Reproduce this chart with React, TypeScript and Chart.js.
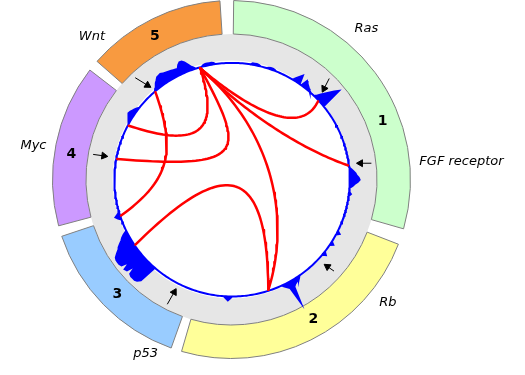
import React, { useEffect, useRef } from "react";
import { Chart, registerables } from "chart.js";

Chart.register(...registerables);

// ---------------- data ----------------
const sectorNumbers = ["1", "2", "3", "4", "5"];
const sectorStart = [0.7, 111.2, 199.7, 255.0, 311.3];
const sectorEnd = [106.0, 196.2, 251.5, 307.7, 356.3];
const sectorColors = ["#ccffcc", "#ffff99", "#99ccff", "#cc99ff", "#f89a40"];
const numberLabelAngles = [69, 149.6, 224.8, 278.9, 331.8];

const geneLabels = ["Ras", "FGF receptor", "Rb", "p53", "Myc", "Wnt"];
const geneLabelAngles = [41.8, 85.5, 128.2, 206.3, 279.7, 315.7];

// histogram bins: [angle (deg, clockwise from top), height]
const histogramBins: [number, number][] = [
  [10, 1.5], [11, 1.5], [12, 1.5], [13, 1],
  [18, 1], [19, 1.5], [20, 1.5], [21, 1],
  [32, 3], [33, 6], [34, 9],
  [37, 7], [38, 5], [39, 3.5], [40, 2], [41, 0.5],
  [45, 2], [46, 6], [47, 10], [48, 14], [49, 18], [50, 22],
  [85, 2], [86, 4], [87, 6], [88, 7], [89, 9], [90, 10], [91, 8], [92, 5], [93, 3],
  [97, 2], [117, 3], [123, 3], [129, 3],
  [146, 2], [147, 3], [148, 4], [149, 5], [150, 7], [151, 24], [152, 6], [153, 4], [154, 2],
  [181, 2], [182, 4], [183, 2],
  [222, 19], [223, 22], [224, 23], [225, 23], [226, 23], [227, 22], [228, 12], [229, 22],
  [230, 23], [231, 14], [232, 23], [233, 24], [234, 24], [235, 24], [236, 23], [237, 20],
  [238, 17], [239, 15], [240, 12], [241, 9], [242, 7], [243, 4],
  [251, 3], [252, 5], [253, 2],
  [299, 1], [300, 2], [301, 3.5], [302, 4.5], [303, 5.5], [304, 5], [305, 4], [306, 3], [307, 1.5],
  [320, 2], [321, 4], [322, 6], [323, 8], [324, 10], [325, 10.5], [326, 11], [327, 10],
  [328, 9.5], [329, 9], [330, 8.5], [331, 8], [332, 7.5], [333, 7], [334, 6.5], [335, 10],
  [336, 12], [337, 12], [338, 10], [339, 7], [340, 4], [341, 2],
  [346, 1.5], [347, 2], [348, 2], [349, 2], [350, 2], [351, 1.5],
];

// links (angles in degrees; control points as angle + fraction of circle radius)
const linkFrom = [280.3, 297.8, 319.0, 235.9, 344.2, 344.2, 344.2];
const linkTo = [344.2, 344.2, 252.0, 161.9, 161.9, 47.4, 82.9];
const linkC1Angle = [60.9, 319.4, 297.8, 356.2, 53.0, 5.7, 10.5];
const linkC1Radius = [0.17, 0.31, 0.54, 0.25, 0.55, 0.67, 0.59];
const linkC2Angle = [23.4, 345.5, 270.0, 74.5, 134.5, 59.5, 64.8];
const linkC2Radius = [0.27, 0.5, 0.52, 0.31, 0.65, 0.66, 0.63];

// arrows
const arrowTailAngle = [316.7, 280.4, 43.6, 83.2, 132.1, 207.3];
const arrowTailRadius = [144, 144, 143.6, 143, 140, 144];
const arrowHeadAngle = [318.9, 280.7, 45.6, 82.4, 132.8, 207.0];
const arrowHeadRadius = [126, 129, 128.7, 128, 128, 125.7];

// ---------------- layout ----------------
const W = 525;
const H = 375;
const CX = 231.5;
const CY = 179.5;
const R_HIST = 120;
const R_LINK = 119;
const RING_OUTER = 179;
const RING_INNER = 119;
const RING_SPLIT = 145.5;
const NUM_R = 162;
const GENE_R = [202.5, 230.7, 199, 194, 200.9, 199.8];

function polar(deg: number, r: number) {
  const a = (deg * Math.PI) / 180;
  return { x: CX + r * Math.sin(a), y: CY - r * Math.cos(a) };
}

function cubic(p0: any, p1: any, p2: any, p3: any, t: number) {
  const u = 1 - t;
  return {
    x: u * u * u * p0.x + 3 * u * u * t * p1.x + 3 * u * t * t * p2.x + t * t * t * p3.x,
    y: u * u * u * p0.y + 3 * u * u * t * p1.y + 3 * u * t * t * p2.y + t * t * t * p3.y,
  };
}

function buildRingData() {
  const values: number[] = [];
  const colors: string[] = [];
  const borders: number[] = [];
  let prev = 0;
  for (let i = 0; i < sectorStart.length; i++) {
    values.push(sectorStart[i] - prev);
    colors.push("rgba(0,0,0,0)");
    borders.push(0);
    values.push(sectorEnd[i] - sectorStart[i]);
    colors.push(sectorColors[i]);
    borders.push(1);
    prev = sectorEnd[i];
  }
  values.push(360 - prev);
  colors.push("rgba(0,0,0,0)");
  borders.push(0);
  return { values, colors, borders };
}

const textPlugin = {
  id: "circosText",
  afterDraw(chart: any) {
    const ctx = chart.ctx as CanvasRenderingContext2D;
    ctx.save();
    ctx.fillStyle = "#000";
    ctx.textAlign = "center";
    ctx.textBaseline = "middle";
    ctx.font = 'bold 14px "DejaVu Sans"';
    sectorNumbers.forEach((s, i) => {
      const p = polar(numberLabelAngles[i], NUM_R);
      ctx.fillText(s, p.x, p.y);
    });
    ctx.font = 'italic 13px "DejaVu Sans"';
    geneLabels.forEach((s, i) => {
      const p = polar(geneLabelAngles[i], GENE_R[i]);
      ctx.fillText(s, p.x, p.y);
    });
    ctx.restore();
  },
};

export default function App() {
  const ringRef = useRef<HTMLCanvasElement>(null);
  const mainRef = useRef<HTMLCanvasElement>(null);

  useEffect(() => {
    const ring = buildRingData();
    const ringChart = new Chart(ringRef.current!, {
      type: "doughnut",
      data: {
        labels: ring.values.map((_, i) => "s" + i),
        datasets: [
          {
            data: ring.values,
            backgroundColor: ring.colors,
            borderColor: "#808080",
            borderWidth: ring.borders,
            weight: RING_OUTER - RING_SPLIT,
          } as any,
          {
            data: [360],
            backgroundColor: ["#e6e6e6"],
            borderWidth: 0,
            weight: RING_SPLIT - RING_INNER,
          } as any,
        ],
      },
      options: {
        animation: false,
        responsive: false,
        events: [],
        radius: RING_OUTER,
        cutout: (RING_INNER / RING_OUTER) * 100 + "%",
        layout: { padding: { left: 0, top: 0, right: W - 2 * CX, bottom: H - 2 * CY } },
        plugins: { legend: { display: false }, tooltip: { enabled: false } },
      } as any,
    });

    // histogram outline (closed shape between circle and outline)
    const hist = new Array(360).fill(0);
    histogramBins.forEach(([a, h]) => (hist[a] = h));
    const histPts: { x: number; y: number }[] = [];
    for (let a = 0; a <= 360; a++) histPts.push(polar(a, R_HIST + hist[a % 360]));
    for (let a = 360; a >= 0; a--) histPts.push(polar(a, R_HIST));

    const datasets: any[] = [];
    datasets.push({
      data: histPts,
      showLine: true,
      fill: "shape",
      backgroundColor: "#0000ff",
      borderColor: "#0000ff",
      borderWidth: 2,
      pointRadius: 0,
      tension: 0,
      order: 3,
    });

    for (let i = 0; i < linkFrom.length; i++) {
      const p0 = polar(linkFrom[i], R_LINK);
      const p3 = polar(linkTo[i], R_LINK);
      const p1 = polar(linkC1Angle[i], linkC1Radius[i] * R_HIST);
      const p2 = polar(linkC2Angle[i], linkC2Radius[i] * R_HIST);
      const pts = [];
      for (let k = 0; k <= 60; k++) pts.push(cubic(p0, p1, p2, p3, k / 60));
      datasets.push({
        data: pts,
        showLine: true,
        fill: false,
        borderColor: "#ff0000",
        borderWidth: 2.5,
        borderCapStyle: "round",
        borderJoinStyle: "round",
        pointRadius: 0,
        tension: 0,
        order: 2,
      });
    }

    for (let i = 0; i < arrowTailAngle.length; i++) {
      const t = polar(arrowTailAngle[i], arrowTailRadius[i]);
      const h = polar(arrowHeadAngle[i], arrowHeadRadius[i]);
      const dx = h.x - t.x;
      const dy = h.y - t.y;
      const len = Math.hypot(dx, dy);
      const hr = 4;
      const c = { x: h.x - (dx / len) * hr, y: h.y - (dy / len) * hr };
      const rot = (Math.atan2(dx, -dy) * 180) / Math.PI;
      datasets.push({
        data: [t, c],
        showLine: true,
        fill: false,
        borderColor: "#000",
        borderWidth: 1,
        pointStyle: "triangle",
        pointRadius: [0, hr],
        pointRotation: [0, rot],
        pointBackgroundColor: "#000",
        pointBorderColor: "#000",
        pointBorderWidth: 1,
        order: 1,
      });
    }

    const mainChart = new Chart(mainRef.current!, {
      type: "scatter",
      data: { datasets },
      options: {
        animation: false,
        responsive: false,
        events: [],
        layout: { padding: 0 },
        scales: {
          x: { type: "linear", min: 0, max: W, display: false },
          y: { type: "linear", min: 0, max: H, reverse: true, display: false },
        },
        plugins: { legend: { display: false }, tooltip: { enabled: false } },
      } as any,
      plugins: [textPlugin],
    });

    return () => {
      ringChart.destroy();
      mainChart.destroy();
    };
  }, []);

  const cs: React.CSSProperties = { position: "absolute", left: 0, top: 0, width: W, height: H };
  return (
    <div style={{ position: "fixed", left: 0, top: 0, width: W, height: H, background: "#fff" }}>
      <canvas ref={ringRef} width={W} height={H} style={cs} />
      <canvas ref={mainRef} width={W} height={H} style={cs} />
    </div>
  );
}
